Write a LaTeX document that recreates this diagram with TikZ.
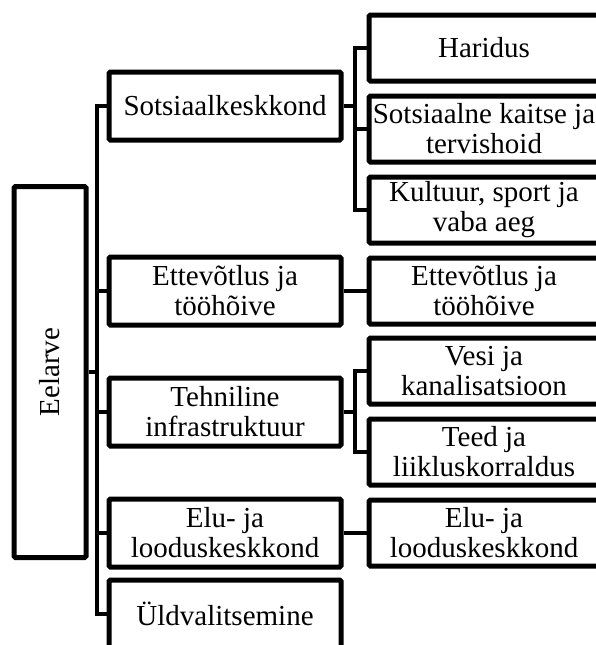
\documentclass[tikz,border=0pt]{standalone}
\usepackage{fontspec}
\setmainfont{Liberation Serif}
\begin{document}
\begin{tikzpicture}[x=1pt,y=-1pt,
  box/.style={draw, line width=5pt, rounded corners=1.5pt, inner sep=0pt, align=center,
    font=\fontsize{29}{30}\selectfont, minimum width=232pt, minimum height=68pt},
  rbox/.style={box, minimum width=230pt, minimum height=66pt},
  link/.style={line width=4.5pt, line join=miter}]
\useasboundingbox (0,0) rectangle (595,645);
% root
\node[box, minimum width=72pt, minimum height=371pt] (eel) at (50,372) {\rotatebox{90}{Eelarve}};
% level 1
\node[box] (sots) at (225,106) {Sotsiaalkeskkond};
\node[box] (ettL) at (225,291) {Ettevõtlus ja\\tööhõive};
\node[box] (tehn) at (225,412) {Tehniline\\infrastruktuur};
\node[box] (eluL) at (225,533) {Elu- ja\\looduskeskkond};
\node[box] (uld) at (225,614) {Üldvalitsemine};
% level 2
\node[rbox] (har) at (484,48) {Haridus};
\node[rbox] (sot2) at (484,129) {Sotsiaalne kaitse ja\\tervishoid};
\node[rbox] (kul) at (484,210) {Kultuur, sport ja\\vaba aeg};
\node[rbox] (ettR) at (484,291) {Ettevõtlus ja\\tööhõive};
\node[rbox] (vesi) at (484,371) {Vesi ja\\kanalisatsioon};
\node[rbox] (teed) at (484,452) {Teed ja\\liikluskorraldus};
\node[rbox] (eluR) at (484,533) {Elu- ja\\looduskeskkond};
% connectors
\coordinate (tx) at (97,0);
\coordinate (bx) at (355,0);
\draw[link] (sots.west) -- (sots.west -| tx) -- (uld.west -| tx) -- (uld.west);
\draw[link] (eel.east) -- (eel.east -| tx);
\draw[link] (ettL.west) -- (ettL.west -| tx);
\draw[link] (tehn.west) -- (tehn.west -| tx);
\draw[link] (eluL.west) -- (eluL.west -| tx);
\draw[link] (har.west) -- (har.west -| bx) -- (kul.west -| bx) -- (kul.west);
\draw[link] (sots.east) -- (sots.east -| bx);
\draw[link] (sot2.west) -- (sot2.west -| bx);
\draw[link] (ettL.east) -- (ettR.west);
\draw[link] (vesi.west) -- (vesi.west -| bx) -- (teed.west -| bx) -- (teed.west);
\draw[link] (tehn.east) -- (tehn.east -| bx);
\draw[link] (eluL.east) -- (eluR.west);
\end{tikzpicture}
\end{document}
